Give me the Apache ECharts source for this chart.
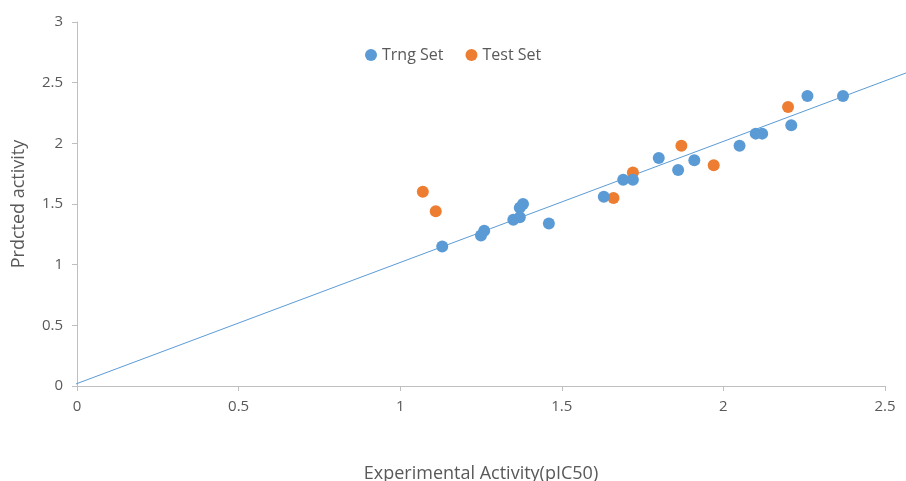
<!DOCTYPE html>
<html>
<head>
<meta charset="utf-8">
<script src="https://cdn.jsdelivr.net/npm/echarts@6/dist/echarts.min.js"></script>
<style>
  html, body { margin: 0; padding: 0; background: #fff; }
  #chart { width: 906px; height: 481px; }
</style>
</head>
<body>
<div id="chart"></div>
<script>
// training set: [experimental, predicted]
var trngSet = [
    [1.13, 1.15], [1.25, 1.24], [1.26, 1.28], [1.35, 1.37], [1.37, 1.39],
    [1.37, 1.47], [1.38, 1.50], [1.46, 1.34], [1.63, 1.56], [1.69, 1.70],
    [1.72, 1.70], [1.80, 1.88], [1.86, 1.78], [1.91, 1.86], [2.05, 1.98],
    [2.10, 2.08], [2.12, 2.08], [2.21, 2.15], [2.26, 2.39], [2.37, 2.39]
];

// test set
var testSet = [
    [1.07, 1.60], [1.11, 1.44], [1.66, 1.55], [1.72, 1.76],
    [1.87, 1.98], [1.97, 1.82], [2.20, 2.30]
];

// trendline end points (runs a bit past the last x tick, like the original)
var trendLine = [[-0.01, 0.01], [2.565, 2.58]];

var xTicks = { min: 0, max: 2.5, interval: 0.5 };
var yTicks = { min: 0, max: 3, interval: 0.5 };

var axisGray = '#BFBFBF';
var textGray = '#595959';
var font = '"Open Sans", "Liberation Sans", sans-serif';

var chart = echarts.init(document.getElementById('chart'));

chart.setOption({
    animation: false,
    textStyle: { fontFamily: font },
    grid: [
        { left: 77, right: 21, top: 22, bottom: 95, outerBoundsMode: 'none', containLabel: false },
        // same scale, wider box, only for the trendline
        { left: 77, right: 0, top: 22, bottom: 95, outerBoundsMode: 'none', containLabel: false }
    ],
    legend: {
        data: ['Trng Set', 'Test Set'],
        left: 360,
        top: 42,
        icon: 'circle',
        itemWidth: 12,
        itemHeight: 12,
        itemGap: 22,
        textStyle: { color: textGray, fontSize: 16, fontFamily: font }
    },
    xAxis: [{
        type: 'value',
        gridIndex: 0,
        min: xTicks.min,
        max: xTicks.max,
        interval: xTicks.interval,
        name: 'Experimental Activity(pIC50)',
        nameLocation: 'middle',
        nameGap: 79,
        nameTextStyle: { color: textGray, fontSize: 18, fontFamily: font },
        axisLine: { lineStyle: { color: axisGray, width: 1 } },
        axisTick: { show: true, length: 5, lineStyle: { color: axisGray } },
        axisLabel: { color: textGray, fontSize: 15, margin: 13 },
        splitLine: { show: false }
    }, {
        type: 'value',
        gridIndex: 1,
        min: 0,
        max: 829 / (808 / 2.5),
        show: false
    }],
    yAxis: [{
        type: 'value',
        gridIndex: 0,
        min: yTicks.min,
        max: yTicks.max,
        interval: yTicks.interval,
        name: 'Prdcted activity',
        nameLocation: 'middle',
        nameGap: 49,
        nameRotate: 90,
        nameTextStyle: { color: textGray, fontSize: 18, fontFamily: font },
        axisLine: { show: true, lineStyle: { color: axisGray, width: 1 } },
        axisTick: { show: true, length: 5, lineStyle: { color: axisGray } },
        axisLabel: { color: textGray, fontSize: 15, margin: 14 },
        splitLine: { show: false }
    }, {
        type: 'value',
        gridIndex: 1,
        min: yTicks.min,
        max: yTicks.max,
        show: false
    }],
    series: [{
        name: 'trend',
        type: 'line',
        xAxisIndex: 1,
        yAxisIndex: 1,
        data: trendLine,
        symbol: 'none',
        silent: true,
        lineStyle: { color: '#5B9BD5', width: 1 },
        z: 1
    }, {
        name: 'Trng Set',
        type: 'scatter',
        data: trngSet,
        symbolSize: 12,
        itemStyle: { color: '#5B9BD5', opacity: 1 },
        z: 3
    }, {
        name: 'Test Set',
        type: 'scatter',
        data: testSet,
        symbolSize: 12,
        itemStyle: { color: '#ED7D31', opacity: 1 },
        z: 2
    }]
});
</script>
</body>
</html>
